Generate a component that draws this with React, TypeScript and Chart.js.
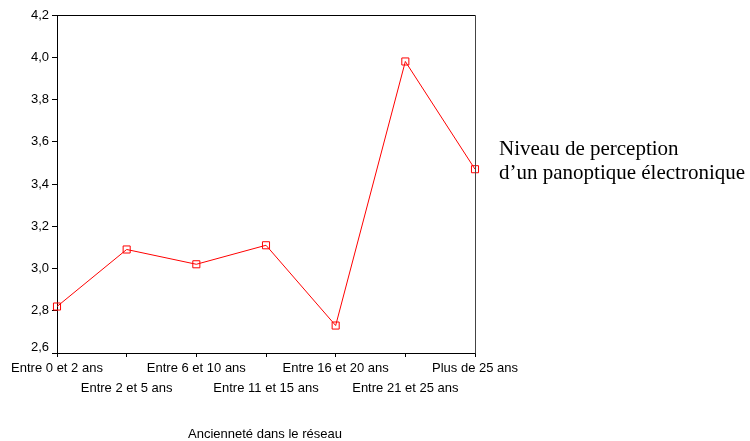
import React, { useEffect, useRef } from "react";
import { Chart, registerables } from "chart.js";

Chart.register(...registerables);

const categories = [
  "Entre 0 et 2 ans",
  "Entre 2 et 5 ans",
  "Entre 6 et 10 ans",
  "Entre 11 et 15 ans",
  "Entre 16 et 20 ans",
  "Entre 21 et 25 ans",
  "Plus de 25 ans",
];
const values = [2.82, 3.09, 3.02, 3.11, 2.73, 3.98, 3.47];
const yMin = 2.6;
const yMax = 4.2;
const yStep = 0.2;
const xAxisTitle = "Ancienneté dans le réseau";
const legendLines = ["Niveau de perception", "d\u2019un panoptique électronique"];

const SANS = '"Liberation Sans", Arial, sans-serif';
const SERIF = '"Liberation Serif", "Times New Roman", serif';

const textPlugin = {
  id: "extraText",
  afterDraw(chart: any) {
    const { ctx, chartArea } = chart;
    ctx.save();
    ctx.lineWidth = 1;
    ctx.strokeStyle = "#000";
    ctx.beginPath();
    ctx.moveTo(Math.round(chartArea.left) + 0.5, Math.round(chartArea.top) + 0.5);
    ctx.lineTo(Math.round(chartArea.right) + 0.5, Math.round(chartArea.top) + 0.5);
    ctx.stroke();
    ctx.strokeStyle = "#444";
    ctx.beginPath();
    ctx.moveTo(Math.round(chartArea.right) + 0.5, Math.round(chartArea.top) + 0.5);
    ctx.lineTo(Math.round(chartArea.right) + 0.5, Math.round(chartArea.bottom) + 0.5);
    ctx.stroke();
    ctx.fillStyle = "#000";
    ctx.font = `13px ${SANS}`;
    ctx.textAlign = "left";
    ctx.textBaseline = "alphabetic";
    ctx.fillText(xAxisTitle, 188, 438);
    ctx.font = `21px ${SERIF}`;
    legendLines.forEach((l, i) => ctx.fillText(l, 499, 155 + i * 24));
    ctx.restore();
  },
};

export default function App() {
  const ref = useRef<HTMLCanvasElement>(null);
  useEffect(() => {
    document.body.style.margin = "0";
    const chart = new Chart(ref.current!, {
      type: "line",
      data: {
        labels: categories,
        datasets: [
          {
            data: values,
            borderColor: "#ff0000",
            borderWidth: 1,
            pointStyle: "rect",
            pointRadius: 5,
            pointBorderColor: "#ff0000",
            pointBackgroundColor: "rgba(0,0,0,0)",
            pointBorderWidth: 1,
            tension: 0,
          },
        ],
      },
      options: {
        animation: false,
        responsive: false,
        maintainAspectRatio: false,
        layout: { padding: { top: 15, right: 275, left: 0, bottom: 0 } },
        plugins: { legend: { display: false }, tooltip: { enabled: false } },
        scales: {
          x: {
            offset: false,
            border: { color: "#000", width: 1 },
            grid: { drawOnChartArea: false, drawTicks: true, tickLength: 4, color: "#000" },
            ticks: {
              autoSkip: false,
              maxRotation: 0,
              minRotation: 0,
              padding: 1,
              color: "#000",
              font: { family: SANS, size: 13, lineHeight: "20px" },
              callback: (_v: any, i: number) => (i % 2 === 0 ? [categories[i], ""] : ["", categories[i]]),
            },
            afterFit: (s: any) => {
              s.height = 88;
            },
          },
          y: {
            min: yMin,
            max: yMax,
            border: { color: "#000", width: 1 },
            grid: { drawOnChartArea: false, drawTicks: true, tickLength: 5, color: "#000" },
            ticks: {
              stepSize: yStep,
              padding: 3,
              color: "#000",
              font: { family: SANS, size: 13, lineHeight: "12px" },
              callback: (v: any) => {
                const s = Number(v).toFixed(1).replace(".", ",");
                return Math.abs(Number(v) - yMin) < 1e-9 ? [s, ""] : s;
              },
            },
            afterFit: (s: any) => {
              s.width = 57;
            },
          },
        },
      },
      plugins: [textPlugin],
    });
    return () => chart.destroy();
  }, []);
  return (
    <div style={{ position: "absolute", left: 0, top: 0, width: 750, height: 441 }}>
      <canvas ref={ref} width={750} height={441} style={{ width: 750, height: 441, display: "block" }} />
    </div>
  );
}
